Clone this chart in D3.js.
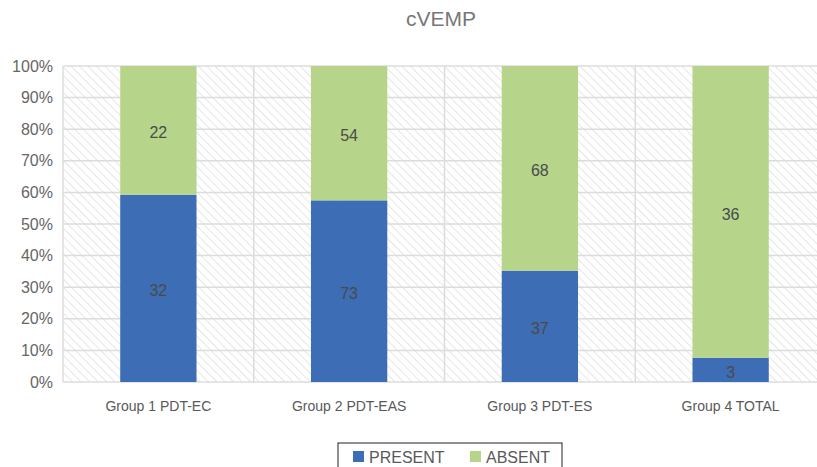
<!DOCTYPE html>
<html>
<head>
<meta charset="utf-8">
<script src="https://cdn.jsdelivr.net/npm/d3@7"></script>
<style>
  body { margin: 0; background: #fff; }
  svg { font-family: "Liberation Sans", Arial, sans-serif; }
</style>
</head>
<body>
<script>
// data
var categories = ["Group 1 PDT-EC", "Group 2 PDT-EAS", "Group 3 PDT-ES", "Group 4 TOTAL"];
var present = [32, 73, 37, 3];
var absent = [22, 54, 68, 36];
var seriesNames = ["PRESENT", "ABSENT"];
var colors = ["#3d6db5", "#b6d58b"];
var yTicks = [0, 0.1, 0.2, 0.3, 0.4, 0.5, 0.6, 0.7, 0.8, 0.9, 1];

var W = 817, H = 467;
var margin = {top: 66, left: 63, bottom: 85};
var plotW = 763, plotH = H - margin.top - margin.bottom;

var svg = d3.select("body").append("svg")
    .attr("width", W)
    .attr("height", H);

// hatch pattern for plot background (lines go top-left to bottom-right)
var defs = svg.append("defs");
var pat = defs.append("pattern")
    .attr("id", "hatch")
    .attr("patternUnits", "userSpaceOnUse")
    .attr("width", 6)
    .attr("height", 6)
    .attr("patternTransform", "rotate(45)");
pat.append("line")
    .attr("x1", 0).attr("y1", 0).attr("x2", 6).attr("y2", 0)
    .attr("stroke", "#e6e6e6")
    .attr("stroke-width", 2);

var g = svg.append("g")
    .attr("transform", "translate(" + margin.left + "," + margin.top + ")");

var x = d3.scaleBand()
    .domain(categories)
    .range([0, plotW])
    .paddingInner(0.6)
    .paddingOuter(0.3);

var y = d3.scaleLinear()
    .domain([0, 1])
    .range([plotH, 0]);

g.append("rect")
    .attr("width", plotW)
    .attr("height", plotH)
    .attr("fill", "url(#hatch)");

// horizontal gridlines
g.selectAll(".hgrid")
    .data(yTicks)
    .enter().append("line")
    .attr("x1", 0).attr("x2", plotW)
    .attr("y1", function(d) { return y(d); })
    .attr("y2", function(d) { return y(d); })
    .attr("stroke", "#dcdcdc")
    .attr("stroke-width", 1.5);

// vertical gridlines at band boundaries
g.selectAll(".vgrid")
    .data(d3.range(categories.length + 1))
    .enter().append("line")
    .attr("x1", function(i) { return i * plotW / categories.length; })
    .attr("x2", function(i) { return i * plotW / categories.length; })
    .attr("y1", 0).attr("y2", plotH)
    .attr("stroke", "#dcdcdc")
    .attr("stroke-width", 1.5);

// y axis labels
var yAxis = g.append("g")
    .call(d3.axisLeft(y).tickValues(yTicks).tickFormat(d3.format(".0%")).tickSize(0).tickPadding(10));
yAxis.select(".domain").remove();
yAxis.selectAll("text")
    .attr("fill", "#666")
    .style("font-size", "16px")
    .style("font-family", "Liberation Sans, Arial, sans-serif");

// x axis labels
var xAxis = g.append("g")
    .attr("transform", "translate(0," + plotH + ")")
    .call(d3.axisBottom(x).tickSize(0).tickPadding(19));
xAxis.select(".domain").remove();
xAxis.selectAll("text")
    .attr("fill", "#595959")
    .style("font-size", "14px")
    .style("font-family", "Liberation Sans, Arial, sans-serif");

// stacked bars
var rows = categories.map(function(c, i) {
    var t = present[i] + absent[i];
    return {cat: c, vals: [present[i], absent[i]], tot: t};
});

rows.forEach(function(r) {
    var cum = 0;
    r.vals.forEach(function(v, k) {
        var y0 = cum / r.tot, y1 = (cum + v) / r.tot;
        g.append("rect")
            .attr("x", x(r.cat))
            .attr("y", y(y1))
            .attr("width", x.bandwidth())
            .attr("height", y(y0) - y(y1))
            .attr("fill", colors[k]);
        g.append("text")
            .attr("x", x(r.cat) + x.bandwidth() / 2)
            .attr("y", (y(y0) + y(y1)) / 2)
            .attr("dy", "0.5em")
            .attr("text-anchor", "middle")
            .attr("fill", "#4a4a4a")
            .style("font-size", "16px")
            .text(v);
        cum += v;
    });
});

// title
svg.append("text")
    .attr("x", 441)
    .attr("y", 26)
    .attr("text-anchor", "middle")
    .attr("fill", "#777")
    .style("font-size", "21px")
    .text("cVEMP");

// legend
var lg = svg.append("g").attr("transform", "translate(338,443)");
lg.append("rect")
    .attr("width", 224)
    .attr("height", 26)
    .attr("fill", "#fff")
    .attr("stroke", "#222")
    .attr("stroke-width", 1);
var offs = [15, 132];
seriesNames.forEach(function(s, k) {
    lg.append("rect")
        .attr("x", offs[k])
        .attr("y", 8)
        .attr("width", 11)
        .attr("height", 11)
        .attr("fill", colors[k]);
    lg.append("text")
        .attr("x", offs[k] + 16)
        .attr("y", 20)
        .attr("fill", "#595959")
        .style("font-size", "16px")
        .text(s);
});
</script>
</body>
</html>
